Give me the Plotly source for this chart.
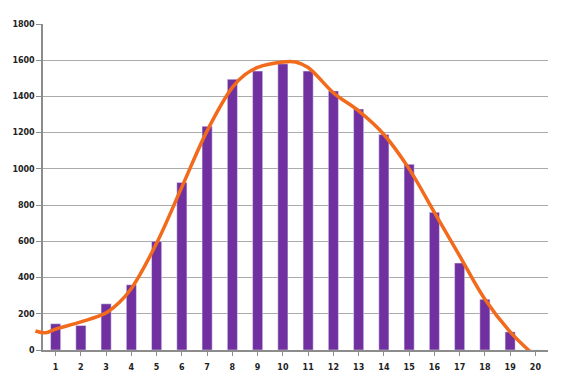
import plotly.graph_objects as go

categories = list(range(1, 21))
bar_values = [145, 135, 255, 360, 600, 925, 1235, 1495, 1540, 1580,
              1540, 1430, 1330, 1190, 1025, 760, 480, 280, 100, 0]

curve_x = [0.2, 0.6, 1, 2, 3, 3.5, 4, 5, 6, 7, 8, 8.5, 9, 10, 10.5,
           11, 12, 13, 14, 15, 16, 17, 18, 19, 19.8]
curve_y = [105, 95, 115, 155, 205, 260, 340, 590, 900, 1210, 1450, 1520,
           1560, 1590, 1590, 1560, 1420, 1320, 1190, 1000, 760, 520, 280, 100, -10]

y_ticks = list(range(0, 1801, 200))

W, H = 567, 380
L, R, T, B = 30, 19, 24, 30
axis_left_px = 43
plot_w = W - L - R
px_per_unit = (W - R - axis_left_px) / 20.0
d0 = (axis_left_px - L) / plot_w

tick_font = dict(family="DejaVu Sans", size=8, color="#222222", weight="bold")

fig = go.Figure()
fig.add_trace(go.Bar(x=categories, y=bar_values, marker_color="#7030A0",
                     width=0.4, xaxis="x", yaxis="y", showlegend=False))
fig.add_trace(go.Scatter(x=curve_x, y=curve_y, mode="lines",
                         line=dict(color="#F26A1B", width=3.5, shape="spline", smoothing=1.0),
                         xaxis="x2", yaxis="y2", showlegend=False))

fig.update_layout(
    width=W, height=H,
    margin=dict(l=L, r=R, t=T, b=B, autoexpand=False),
    paper_bgcolor="white", plot_bgcolor="rgba(0,0,0,0)",
    hovermode=False,
    xaxis=dict(domain=[d0, 1], range=[0.5, 20.5], tickmode="array",
               tickvals=categories, ticktext=[str(c) for c in categories],
               tickson="boundaries", ticks="outside", ticklen=4, tickcolor="#8C8C8C",
               ticklabelstandoff=5,
               showline=True, linecolor="#8C8C8C", linewidth=1.5,
               showgrid=False, zeroline=False, tickfont=tick_font, fixedrange=True,
               automargin=False),
    yaxis=dict(range=[0, 1800], tickvals=y_ticks, anchor="x",
               ticks="outside", ticklen=5, tickcolor="#8C8C8C",
               showline=True, linecolor="#8C8C8C", linewidth=1.5,
               showgrid=True, gridcolor="#ABABAB", gridwidth=1,
               zeroline=False, tickfont=tick_font, fixedrange=True,
               automargin=False),
    xaxis2=dict(domain=[0, 1], range=[0.5 - (axis_left_px - L) / px_per_unit, 20.5],
                visible=False, anchor="y2", fixedrange=True, automargin=False),
    yaxis2=dict(domain=[0, 1], range=[0, 1800], visible=False, anchor="x2",
                fixedrange=True, automargin=False),
    bargap=0.6,
)

fig.write_html("out.html", config={"displayModeBar": False},
               post_script="document.body.style.margin='0';document.body.style.padding='0';")
